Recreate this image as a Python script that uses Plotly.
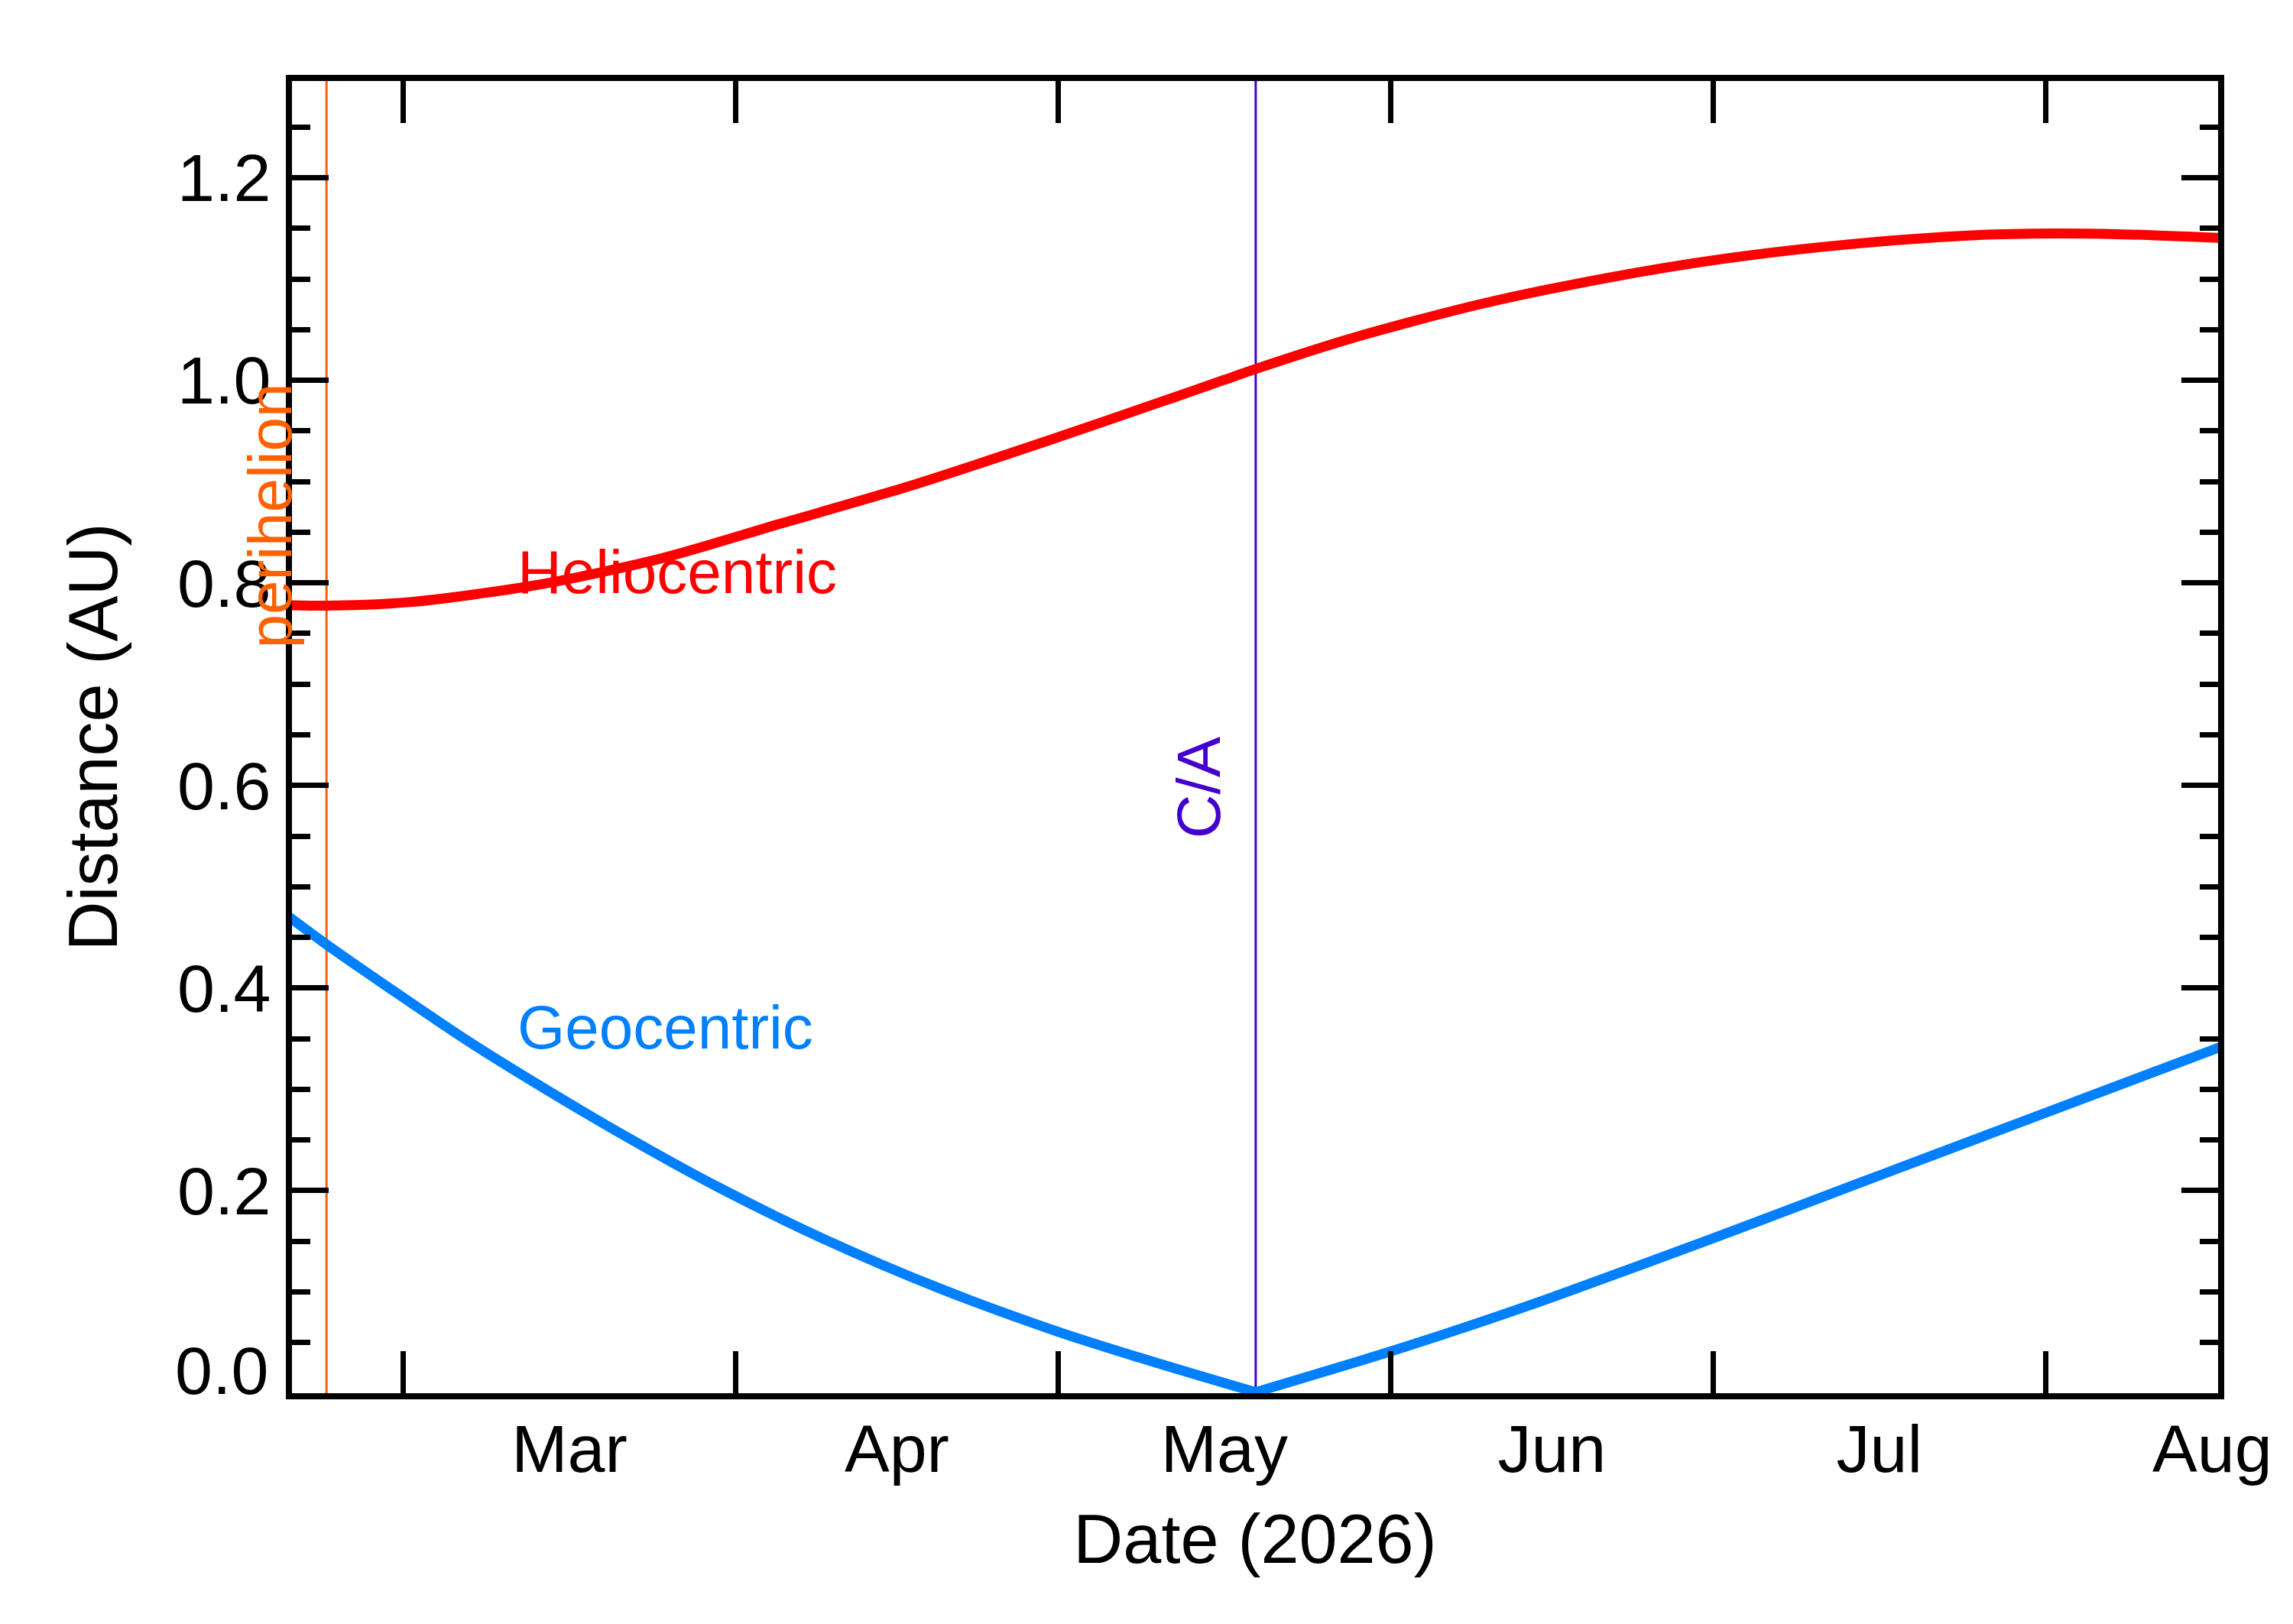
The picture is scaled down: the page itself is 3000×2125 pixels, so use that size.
import plotly.graph_objects as go

# heliocentric distance (AU)
helio_dates = ["2026-02-18 10:00", "2026-02-22", "2026-03-01 14:00", "2026-03-13 12:00",
               "2026-03-25", "2026-04-05", "2026-04-17", "2026-04-29 16:00",
               "2026-05-11 12:00", "2026-05-16 12:00", "2026-05-19 08:00", "2026-05-28 08:00",
               "2026-06-09 06:00", "2026-06-21 02:00", "2026-07-02", "2026-07-13 22:00",
               "2026-07-25 19:00", "2026-08-01 17:00", "2026-08-07 17:00", "2026-08-17 08:00"]
helio_au = [0.778, 0.7775, 0.781, 0.798,
            0.824, 0.858, 0.895, 0.939,
            0.982, 1.0005, 1.011, 1.0415,
            1.075, 1.101, 1.120, 1.1345,
            1.1435, 1.145, 1.1443, 1.1405]

# geocentric distance (AU): inbound leg up to close approach, then outbound
geo_in_dates = ["2026-02-18 10:00", "2026-02-21 21:00", "2026-02-28 10:00", "2026-03-07",
                "2026-03-13 20:00", "2026-03-21 20:00", "2026-03-30 06:00", "2026-04-09 06:00",
                "2026-04-20 05:00", "2026-05-01", "2026-05-08 12:00", "2026-05-14 17:00",
                "2026-05-19 10:00"]
geo_in_au = [0.470, 0.443, 0.395, 0.348,
             0.303, 0.253, 0.204, 0.152,
             0.1025, 0.0607, 0.0354, 0.0156,
             0.001]
geo_out_dates = ["2026-05-19 10:00", "2026-06-01", "2026-06-11", "2026-06-17 02:00",
                 "2026-07-01", "2026-07-11 02:00", "2026-07-17 02:00", "2026-08-01",
                 "2026-08-10 10:00", "2026-08-17 08:00"]
geo_out_au = [0.001, 0.0413, 0.0761, 0.0987,
              0.1529, 0.1933, 0.2173, 0.2769,
              0.3145, 0.3421]

y_tickvals = [0.0, 0.2, 0.4, 0.6, 0.8, 1.0, 1.2]
y_ticktext = ["", "0.2", "0.4", "0.6", "0.8", "1.0", "1.2"]

perihelion_date = "2026-02-21 21:00"
ca_date = "2026-05-19 10:00"
x_range = ["2026-02-18 15:50", "2026-08-17 01:10"]
y_range = [0.0, 1.2955]

FONT = "Liberation Sans, Arial, Helvetica, sans-serif"
TICK_FS = 88
TITLE_FS = 90
NOTE_FS = 80
LW = 13

fig = go.Figure()

fig.add_trace(go.Scatter(x=[perihelion_date, perihelion_date], y=y_range, mode="lines",
                         line=dict(color="#FF6000", width=3), hoverinfo="skip"))
fig.add_trace(go.Scatter(x=[ca_date, ca_date], y=y_range, mode="lines",
                         line=dict(color="#4400CC", width=3), hoverinfo="skip"))
fig.add_trace(go.Scatter(x=helio_dates, y=helio_au, mode="lines", name="Heliocentric",
                         line=dict(color="#FF0000", width=LW, shape="spline", smoothing=0.8)))
fig.add_trace(go.Scatter(x=geo_in_dates, y=geo_in_au, mode="lines", name="Geocentric",
                         line=dict(color="#0080FF", width=LW, shape="spline", smoothing=0.8)))
fig.add_trace(go.Scatter(x=geo_out_dates, y=geo_out_au, mode="lines", name="Geocentric",
                         line=dict(color="#0080FF", width=LW, shape="spline", smoothing=0.8)))

fig.add_annotation(x="2026-03-11 18:00", y=0.817, text="Heliocentric", showarrow=False,
                   xanchor="left", yanchor="middle", xshift=-3, yshift=-8,
                   font=dict(color="#FF0000", size=NOTE_FS, family=FONT))
fig.add_annotation(x="2026-03-11 18:00", y=0.367, text="Geocentric", showarrow=False,
                   xanchor="left", yanchor="middle", xshift=-3, yshift=-8,
                   font=dict(color="#0080FF", size=NOTE_FS, family=FONT))
fig.add_annotation(x=perihelion_date, y=0.872, text="perihelion", showarrow=False, textangle=-90,
                   xanchor="center", yanchor="middle", xshift=-74, yshift=-8,
                   font=dict(color="#FF6000", size=NOTE_FS, family=FONT))
fig.add_annotation(x=ca_date, y=0.604, text="C/A", showarrow=False, textangle=-90,
                   xanchor="center", yanchor="middle", xshift=-74, yshift=-8,
                   font=dict(color="#4400CC", size=NOTE_FS, family=FONT))
# the 0.0 label sits just above the bottom axis, as in the original
fig.add_annotation(xref="paper", x=0, y=0.0, text="0.0", showarrow=False,
                   xanchor="right", yanchor="middle", xshift=-29, yshift=30,
                   font=dict(color="black", size=TICK_FS, family=FONT))

fig.update_xaxes(
    type="date", range=x_range, dtick="M1", tick0="2026-01-01",
    tickformat="%b", ticklabelmode="period", ticklabelstandoff=-11,
    ticks="inside", ticklen=55, tickwidth=7, tickcolor="black",
    showline=True, linewidth=8, linecolor="black", mirror="ticks",
    showgrid=False, zeroline=False, automargin=False,
    tickfont=dict(size=TICK_FS, family=FONT, color="black"),
    title=dict(text="Date (2026)", font=dict(size=TITLE_FS, family=FONT, color="black"), standoff=41),
)
fig.update_yaxes(
    range=y_range, tickmode="array", tickvals=y_tickvals, ticktext=y_ticktext,
    ticklabelstandoff=2,
    ticks="inside", ticklen=48, tickwidth=7, tickcolor="black",
    minor=dict(dtick=0.05, tick0=0, ticks="inside", ticklen=24, tickwidth=7, tickcolor="black"),
    showline=True, linewidth=8, linecolor="black", mirror="ticks",
    showgrid=False, zeroline=False, automargin=False,
    tickfont=dict(size=TICK_FS, family=FONT, color="black"),
    title=dict(text="Distance (AU)", font=dict(size=TITLE_FS, family=FONT, color="black"), standoff=52),
)

fig.update_layout(
    width=3000, height=2125,
    margin=dict(l=374, r=106, t=98, b=310),
    paper_bgcolor="white", plot_bgcolor="white",
    showlegend=False,
    font=dict(family=FONT, color="black"),
)

fig.write_html("out.html")
